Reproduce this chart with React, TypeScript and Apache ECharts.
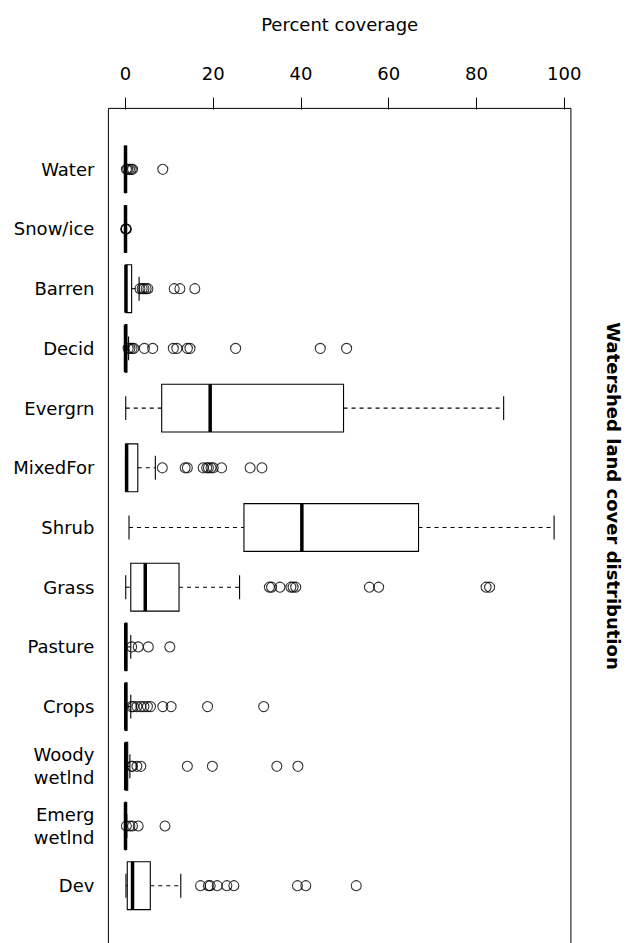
import React, { useEffect, useRef } from "react";
import * as echarts from "echarts";

const categories = [
  "Water", "Snow/ice", "Barren", "Decid", "Evergrn", "MixedFor", "Shrub",
  "Grass", "Pasture", "Crops", "Woody\nwetlnd", "Emerg\nwetlnd", "Dev",
];
const whiskerLow = [0, 0, 0, 0, 0.05, 0, 0.8, 0.05, 0, 0, 0, 0, 0.1];
const q1 = [0, 0, 0.05, 0, 8.25, 0.05, 27.0, 1.2, 0, 0, 0, 0, 0.4];
const median = [0, 0, 0.1, 0, 19.3, 0.25, 40.2, 4.5, 0.05, 0.05, 0.05, 0, 1.6];
const q3 = [0, 0, 1.4, 0.3, 49.7, 2.8, 66.8, 12.2, 0.3, 0.3, 0.5, 0.1, 5.65];
const whiskerHigh = [0, 0, 3.1, 0.7, 86.2, 6.8, 97.7, 26.0, 1.2, 1.2, 1.0, 0.3, 12.6];
const outlierValues = [
  [0.2, 0.5, 0.9, 1.3, 1.6, 8.5],
  [0.05, 0.1, 0.2],
  [3.3, 3.8, 4.2, 4.7, 5.1, 11.1, 12.4, 15.8],
  [0.6, 1.0, 1.5, 1.9, 4.3, 6.2, 10.9, 11.7, 14.1, 14.7, 25.1, 44.4, 50.4],
  [],
  [8.4, 13.6, 14.1, 17.7, 18.5, 18.9, 19.5, 20.0, 21.9, 28.4, 31.1],
  [],
  [32.8, 33.3, 35.2, 37.7, 38.2, 38.8, 55.6, 57.7, 82.2, 83.0],
  [1.4, 2.9, 5.2, 10.1],
  [1.4, 1.8, 2.6, 3.5, 4.2, 5.0, 5.7, 8.5, 10.4, 18.7, 31.5],
  [1.4, 1.6, 2.6, 3.5, 14.1, 19.8, 34.5, 39.3],
  [0.2, 1.0, 1.6, 2.9, 9.0],
  [17.1, 18.9, 19.3, 20.9, 23.1, 24.7, 39.2, 41.1, 52.6],
];
const xTicks = [0, 20, 40, 60, 80, 100];
const xTitle = "Percent coverage";
const sideTitle = "Watershed land cover distribution";

const FONT = "DejaVu Sans";

export default function App() {
  const ref = useRef<HTMLDivElement>(null);
  useEffect(() => {
    if (!ref.current) return;
    const chart = echarts.init(ref.current, null, { renderer: "svg" });
    const boxData = categories.map((_, i) => [
      i + 1, whiskerLow[i], q1[i], median[i], q3[i], whiskerHigh[i],
    ]);
    const outlierData: number[][] = [];
    outlierValues.forEach((arr, i) => arr.forEach((v) => outlierData.push([v, i + 1])));
    const yPositions = categories.map((_, i) => i + 1);

    const renderItem = (params: any, api: any) => {
      const y = api.value(0);
      const lo = api.coord([api.value(1), y]);
      const b1 = api.coord([api.value(2), y]);
      const md = api.coord([api.value(3), y]);
      const b3 = api.coord([api.value(4), y]);
      const hi = api.coord([api.value(5), y]);
      const band = Math.abs(api.size([0, 1])[1]);
      const h = band * 0.4;
      const yc = md[1];
      const thin = { stroke: "#000", lineWidth: 1.1, fill: "none" };
      const dashed = { stroke: "#000", lineWidth: 1.1, lineDash: [4, 4], fill: "none" };
      const children: any[] = [];
      if (b1[0] - lo[0] > 0.5) {
        children.push({ type: "line", shape: { x1: lo[0], y1: yc, x2: b1[0], y2: yc }, style: dashed });
      }
      if (hi[0] - b3[0] > 0.5) {
        children.push({ type: "line", shape: { x1: b3[0], y1: yc, x2: hi[0], y2: yc }, style: dashed });
      }
      children.push({ type: "line", shape: { x1: lo[0], y1: yc - h / 2, x2: lo[0], y2: yc + h / 2 }, style: thin });
      children.push({ type: "line", shape: { x1: hi[0], y1: yc - h / 2, x2: hi[0], y2: yc + h / 2 }, style: thin });
      children.push({
        type: "rect",
        shape: { x: b1[0], y: yc - h, width: Math.max(b3[0] - b1[0], 0), height: 2 * h },
        style: { fill: "none", stroke: "#000", lineWidth: 1.1 },
      });
      children.push({
        type: "line",
        shape: { x1: md[0], y1: yc - h, x2: md[0], y2: yc + h },
        style: { stroke: "#000", lineWidth: 3.5 },
      });
      return { type: "group", children };
    };

    chart.setOption({
      animation: false,
      textStyle: { fontFamily: FONT, color: "#000" },
      grid: {
        left: 108.4,
        top: 108.4,
        width: 462.5,
        height: 838.2,
        show: true,
        borderColor: "#000",
        borderWidth: 1,
        backgroundColor: "transparent",
        containLabel: false,
        outerBoundsMode: "none",
      },
      xAxis: {
        type: "value",
        position: "top",
        min: -3.9,
        max: 101.53,
        axisLine: { show: false },
        axisTick: {
          show: true,
          length: 12,
          inside: false,
          customValues: xTicks,
          lineStyle: { color: "#000", width: 1 },
        },
        axisLabel: {
          show: true,
          customValues: xTicks,
          margin: 26,
          fontSize: 18,
          fontFamily: FONT,
          color: "#000",
        },
        splitLine: { show: false },
        name: xTitle,
        nameLocation: "middle",
        nameGap: 75,
        nameTextStyle: { fontSize: 18, fontFamily: FONT, color: "#000" },
      },
      yAxis: {
        type: "value",
        inverse: true,
        min: -0.02,
        max: 14.02,
        axisLine: { show: false },
        axisTick: { show: false },
        splitLine: { show: false },
        axisLabel: {
          show: true,
          customValues: yPositions,
          formatter: (v: number) => categories[Math.round(v) - 1] ?? "",
          margin: 14,
          fontSize: 18,
          lineHeight: 23,
          align: "right",
          fontFamily: FONT,
          color: "#000",
        },
      },
      graphic: [
        {
          type: "text",
          x: 613,
          y: 496,
          rotation: -Math.PI / 2,
          style: {
            text: sideTitle,
            fontSize: 18,
            fontWeight: "bold",
            fontFamily: FONT,
            fill: "#000",
            textAlign: "center",
            textVerticalAlign: "middle",
          },
        },
      ],
      series: [
        {
          type: "custom",
          renderItem,
          data: boxData,
          encode: { x: [1, 2, 3, 4, 5], y: 0 },
          clip: false,
          silent: true,
        },
        {
          type: "scatter",
          data: outlierData,
          symbol: "circle",
          symbolSize: 10,
          silent: true,
          itemStyle: { color: "transparent", borderColor: "#000", borderWidth: 1.1 },
        },
      ],
    });
    return () => chart.dispose();
  }, []);
  return (
    <div
      ref={ref}
      style={{ position: "fixed", left: 0, top: 0, width: 634, height: 943, background: "#fff" }}
    />
  );
}
